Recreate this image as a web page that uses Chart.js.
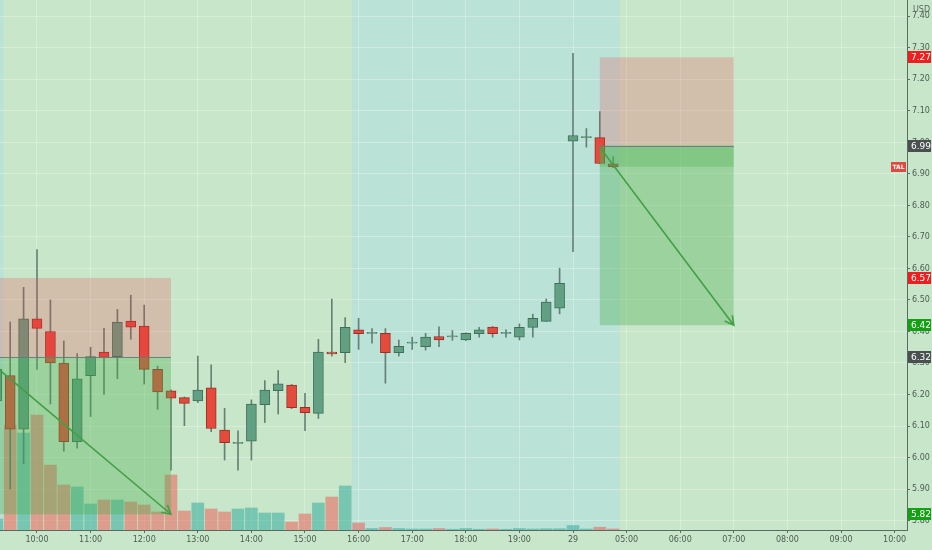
<!DOCTYPE html>
<html>
<head>
<meta charset="utf-8">
<script src="https://cdn.jsdelivr.net/npm/chart.js@4.4.0/dist/chart.umd.min.js"></script>
<style>
  html, body { margin: 0; padding: 0; background: #c8e6c9; }
  #wrap { width: 932px; height: 550px; position: relative; }
</style>
</head>
<body>
<div id="wrap"><canvas id="chart"></canvas></div>
<script>
// --- 15m bars, TAL (index 0 = 09:15) ---
const times = ['09:15','09:30','09:45','10:00','10:15','10:30','10:45','11:00','11:15','11:30','11:45','12:00',
  '12:15','12:30','12:45','13:00','13:15','13:30','13:45','14:00','14:15','14:30','14:45','15:00','15:15','15:30',
  '15:45','16:00','16:15','16:30','16:45','17:00','17:15','17:30','17:45','18:00','18:15','18:30','18:45','19:00',
  '19:15','19:30','19:45','04:00','04:15','04:30','04:45'];
const openP  = [6.18,6.26,6.09,6.44,6.40,6.30,6.05,6.26,6.335,6.32,6.433,6.417,6.28,6.212,6.19,6.18,6.221,6.087,6.045,6.052,
  6.168,6.212,6.23,6.159,6.14,6.335,6.333,6.405,6.394,6.394,6.333,6.363,6.352,6.384,6.383,6.373,6.393,6.414,6.394,6.382,
  6.413,6.432,6.474,7.004,7.015,7.015,6.932];
const highP  = [6.30,6.43,6.54,6.66,6.50,6.37,6.33,6.35,6.41,6.47,6.515,6.484,6.29,6.215,6.192,6.322,6.294,6.156,6.085,6.183,
  6.244,6.276,6.232,6.204,6.375,6.503,6.444,6.442,6.409,6.409,6.373,6.382,6.394,6.415,6.403,6.396,6.413,6.416,6.405,6.424,
  6.455,6.503,6.601,7.283,7.044,7.098,6.955];
const lowP   = [6.17,5.90,5.98,6.28,6.17,6.02,6.03,6.13,6.20,6.25,6.375,6.233,6.153,5.96,6.101,6.174,6.082,5.992,5.96,5.992,
  6.111,6.138,6.155,6.085,6.124,6.322,6.301,6.343,6.363,6.236,6.322,6.343,6.341,6.352,6.372,6.371,6.382,6.382,6.382,6.373,
  6.382,6.432,6.456,6.653,6.985,6.933,6.92];
const closeP = [6.28,6.09,6.44,6.41,6.30,6.05,6.25,6.32,6.318,6.43,6.414,6.28,6.208,6.188,6.172,6.214,6.092,6.047,6.046,6.17,
  6.214,6.234,6.158,6.142,6.335,6.329,6.413,6.393,6.395,6.333,6.353,6.364,6.382,6.373,6.384,6.394,6.405,6.393,6.395,6.413,
  6.442,6.493,6.553,7.022,7.016,6.933,6.923];
// volume, thousands of shares
const volume = [44,420,388,460,260,180,172,104,120,120,112,100,72,220,76,108,84,72,84,88,68,68,32,64,108,132,176,
  28,6,10,6,4,4,6,3,6,3,4,3,6,4,5,5,18,4,11,4];

// extended-hours bars (index ranges)
const extStart = [-0.5, 26.5];
const extEnd   = [0.5, 46.5];

// time axis
const tickPos  = [3,7,11,15,19,23,27,31,35,39,43,47,51,55,59,63,67];
const tickText = ['10:00','11:00','12:00','13:00','14:00','15:00','16:00','17:00','18:00','19:00','29',
  '05:00','06:00','07:00','08:00','09:00','10:00'];
// price axis
const priceTicks = [5.8,5.9,6.0,6.1,6.2,6.3,6.4,6.5,6.6,6.7,6.8,6.9,7.0,7.1,7.2,7.3,7.4];

// short position drawings
const posStart  = [0, 45];
const posEnd    = [13, 55];
const posStop   = [6.57, 7.27];
const posEntry  = [6.32, 6.99];
const posTarget = [5.82, 6.42];
const posOpen   = [false, true];
const arrowFromX = [0, 45],   arrowFromY = [6.285, 6.985];
const arrowToX   = [13, 55],  arrowToY   = [5.82, 6.42];

const BG = '#c8e6c9';
const up = closeP.map((c, i) => c >= openP[i]);
const idx = times.map((t, i) => i);

const bgPlugin = {
  id: 'bg',
  beforeDraw(chart) {
    const { ctx, chartArea: a, scales: { x } } = chart;
    ctx.save();
    ctx.fillStyle = BG;
    ctx.fillRect(0, 0, chart.width, chart.height);
    ctx.fillStyle = '#bbe2d6';
    extStart.forEach((s, k) => {
      const x0 = Math.max(a.left, x.getPixelForValue(s));
      const x1 = Math.min(a.right, x.getPixelForValue(extEnd[k]));
      ctx.fillRect(x0, a.top, x1 - x0, a.bottom - a.top);
    });
    ctx.restore();
  }
};

function arrow(ctx, x0, y0, x1, y1) {
  ctx.beginPath();
  ctx.moveTo(x0, y0);
  ctx.lineTo(x1, y1);
  const ang = Math.atan2(y1 - y0, x1 - x0);
  const L = 10;
  ctx.moveTo(x1 - L * Math.cos(ang - 0.5), y1 - L * Math.sin(ang - 0.5));
  ctx.lineTo(x1, y1);
  ctx.lineTo(x1 - L * Math.cos(ang + 0.5), y1 - L * Math.sin(ang + 0.5));
  ctx.stroke();
}

const drawPlugin = {
  id: 'drawings',
  afterDatasetsDraw(chart) {
    const { ctx, chartArea: a, scales: { x, y } } = chart;
    ctx.save();
    ctx.beginPath();
    ctx.rect(a.left, a.top, a.right - a.left, a.bottom - a.top);
    ctx.clip();
    posStart.forEach((s, k) => {
      const x0 = x.getPixelForValue(s), x1 = x.getPixelForValue(posEnd[k]);
      const yS = y.getPixelForValue(posStop[k]);
      const yE = y.getPixelForValue(posEntry[k]);
      const yT = y.getPixelForValue(posTarget[k]);
      ctx.fillStyle = 'rgba(242,54,69,0.22)';
      ctx.fillRect(x0, yS, x1 - x0, yE - yS);
      ctx.fillStyle = 'rgba(76,175,80,0.36)';
      ctx.fillRect(x0, yE, x1 - x0, yT - yE);
      if (posOpen[k]) {
        const yC = y.getPixelForValue(closeP[closeP.length - 1]);
        ctx.fillStyle = 'rgba(76,175,80,0.3)';
        ctx.fillRect(x0, yE, x1 - x0, yC - yE);
      }
      ctx.strokeStyle = 'rgba(110,118,120,0.9)';
      ctx.lineWidth = 1;
      ctx.beginPath();
      ctx.moveTo(x0, Math.round(yE) + 0.5);
      ctx.lineTo(x1, Math.round(yE) + 0.5);
      ctx.stroke();
    });
    ctx.strokeStyle = '#43a047';
    ctx.lineWidth = 1.6;
    arrowFromX.forEach((fx, k) => {
      arrow(ctx, x.getPixelForValue(fx), y.getPixelForValue(arrowFromY[k]),
        x.getPixelForValue(arrowToX[k]), y.getPixelForValue(arrowToY[k]));
    });
    ctx.restore();
  },
  afterDraw(chart) {
    const { ctx, chartArea: a, scales: { y } } = chart;
    ctx.save();
    ctx.font = '9px "DejaVu Sans"';
    ctx.textBaseline = 'middle';
    const tags = [
      [posStop[1], '#f01e1e'], [posEntry[1], '#4a4f4f'], [posStop[0], '#f01e1e'],
      [posTarget[1], '#13a013'], [posEntry[0], '#4a4f4f'], [posTarget[0], '#13a013']
    ];
    tags.forEach(([v, c]) => {
      const py = Math.round(y.getPixelForValue(v));
      ctx.fillStyle = c;
      ctx.fillRect(a.right + 1, py - 6, 23, 12);
      ctx.fillStyle = '#fff';
      ctx.textAlign = 'left';
      ctx.fillText(v.toFixed(2), a.right + 4, py + 0.5);
    });
    // symbol label at last price
    const ly = Math.round(y.getPixelForValue(closeP[closeP.length - 1]));
    ctx.fillStyle = '#dc4a40';
    ctx.fillRect(a.right - 16, ly - 5, 15, 10);
    ctx.fillStyle = '#fff';
    ctx.font = 'bold 6px "DejaVu Sans"';
    ctx.textAlign = 'center';
    ctx.fillText('TAL', a.right - 8.5, ly + 0.5);
    ctx.fillStyle = '#5a6660';
    ctx.font = '8px "DejaVu Sans"';
    ctx.textAlign = 'left';
    ctx.fillText('USD', a.right + 6, 10);
    ctx.restore();
  }
};

const noPad = s => { s.paddingTop = 0; s.paddingBottom = 0; s.paddingLeft = 0; s.paddingRight = 0; };

new Chart(document.getElementById('chart'), {
  type: 'bar',
  data: {
    datasets: [
      {
        label: 'body',
        data: idx.map(i => ({ x: i, y: [openP[i], closeP[i]] })),
        backgroundColor: up.map(u => u ? '#62a083' : '#e54b3d'),
        borderColor: up.map(u => u ? '#3f6f5a' : '#9a2f27'),
        borderWidth: 1,
        borderSkipped: false,
        barThickness: 10,
        minBarLength: 1,
        grouped: false,
        yAxisID: 'y',
        order: 0
      },
      {
        label: 'wick',
        data: idx.map(i => ({ x: i, y: [lowP[i], highP[i]] })),
        backgroundColor: 'rgba(85,110,100,0.85)',
        barThickness: 1,
        grouped: false,
        yAxisID: 'y',
        order: 1
      },
      {
        label: 'volume',
        data: idx.map(i => ({ x: i, y: volume[i] })),
        backgroundColor: up.map(u => u ? 'rgba(38,166,154,0.5)' : 'rgba(239,83,80,0.5)'),
        barThickness: 12,
        grouped: false,
        yAxisID: 'vol',
        order: 2
      }
    ]
  },
  options: {
    responsive: true,
    maintainAspectRatio: false,
    animation: false,
    layout: { padding: 0 },
    plugins: { legend: { display: false }, tooltip: { enabled: false } },
    scales: {
      x: {
        type: 'linear',
        position: 'bottom',
        offset: false,
        min: 0.239,
        max: 67.925,
        afterBuildTicks: s => { s.ticks = tickPos.map(v => ({ value: v })); },
        afterFit: s => { s.height = 20; noPad(s); },
        grid: { offset: false, color: 'rgba(255,255,255,0.28)', tickColor: '#5b6a62', tickLength: 3 },
        border: { display: true, color: '#5b6a62' },
        ticks: {
          autoSkip: false, maxRotation: 0, padding: 2,
          color: '#4e5c55', font: { family: 'DejaVu Sans', size: 8 },
          callback: v => tickText[tickPos.indexOf(v)]
        }
      },
      y: {
        type: 'linear',
        position: 'right',
        min: 5.77,
        max: 7.452,
        afterBuildTicks: s => { s.ticks = priceTicks.map(v => ({ value: v })); },
        afterFit: s => { s.width = 25; noPad(s); },
        grid: { color: 'rgba(255,255,255,0.28)', tickColor: '#5b6a62', tickLength: 3 },
        border: { display: true, color: '#5b6a62' },
        ticks: {
          padding: 2, crossAlign: 'near',
          color: '#4e5c55', font: { family: 'DejaVu Sans', size: 8 },
          callback: v => v.toFixed(2)
        }
      },
      vol: {
        type: 'linear',
        display: false,
        min: 0,
        max: 2120
      }
    }
  },
  plugins: [bgPlugin, drawPlugin]
});
</script>
</body>
</html>
